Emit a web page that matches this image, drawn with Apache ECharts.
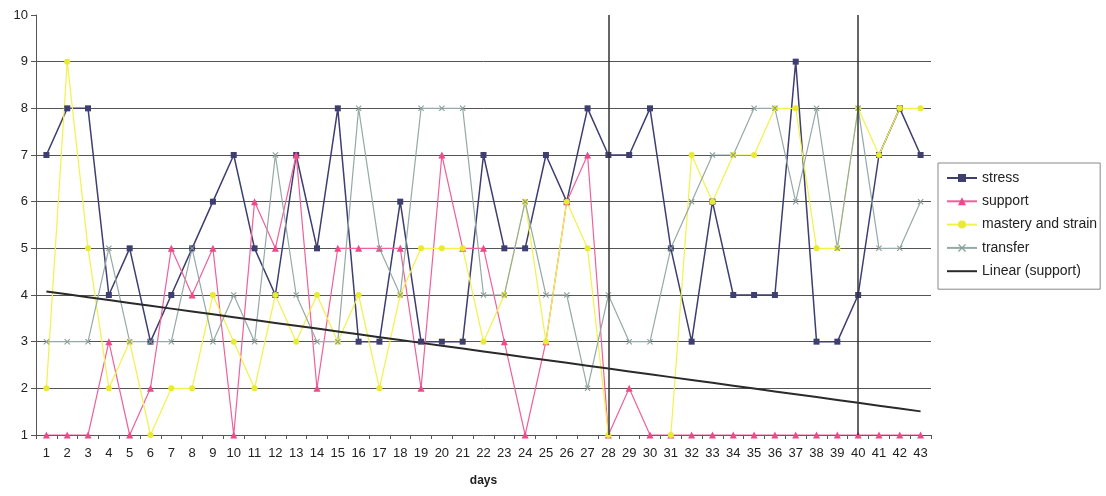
<!DOCTYPE html>
<html>
<head>
<meta charset="utf-8">
<script src="https://cdn.jsdelivr.net/npm/echarts@6/dist/echarts.min.js"></script>
<style>html,body{margin:0;padding:0;background:#fff}#c{width:1106px;height:496px}</style>
</head>
<body>
<div id="c"></div>
<script>
const days = ['1','2','3','4','5','6','7','8','9','10','11','12','13','14','15','16','17','18','19','20','21','22','23','24','25','26','27','28','29','30','31','32','33','34','35','36','37','38','39','40','41','42','43'];
const stress = [7,8,8,4,5,3,4,5,6,7,5,4,7,5,8,3,3,6,3,3,3,7,5,5,7,6,8,7,7,8,5,3,6,4,4,4,9,3,3,4,7,8,7];
const support = [1,1,1,3,1,2,5,4,5,1,6,5,7,2,5,5,5,5,2,7,5,5,3,1,3,6,7,1,2,1,1,1,1,1,1,1,1,1,1,1,1,1,1];
const mastery = [2,9,5,2,3,1,2,2,4,3,2,4,3,4,3,4,2,4,5,5,5,3,4,6,3,6,5,1,null,null,1,7,6,7,7,8,8,5,5,8,7,8,8];
const transfer = [3,3,3,5,3,3,3,5,3,4,3,7,4,3,3,8,5,4,8,8,8,4,4,6,4,4,2,4,3,3,5,6,7,7,8,8,6,8,5,8,5,5,6];
const yTicks = [1,2,3,4,5,6,7,8,9,10];
const markerDays = ['28','40'];

// Linear trendline (least squares) of support
const n = support.length;
let sx=0, sy=0, sxy=0, sxx=0;
support.forEach((v,i)=>{const x=i+1; sx+=x; sy+=v; sxy+=x*v; sxx+=x*x;});
const slope = (n*sxy - sx*sy)/(n*sxx - sx*sx);
const icpt = (sy - slope*sx)/n;
const trend = support.map((_,i)=>+(icpt + slope*(i+1)).toFixed(4));

const xSym = 'path://M0,1.2L1.2,0L5,3.8L8.8,0L10,1.2L6.2,5L10,8.8L8.8,10L5,6.2L1.2,10L0,8.8L3.8,5Z';
const font = 'Liberation Sans, Arial, sans-serif';

const chart = echarts.init(document.getElementById('c'), null, {renderer:'canvas'});
chart.setOption({
  animation: false,
  backgroundColor: '#fff',
  grid: {left: 36, top: 15, width: 895, height: 420},
  legend: {
    orient: 'vertical', left: 938, top: 163,
    padding: [8, 3, 11, 8], itemGap: 9.3, itemWidth: 30, itemHeight: 10,
    borderColor: '#888', borderWidth: 1,
    textStyle: {fontFamily: font, fontSize: 14, color: '#222'},
    data: ['stress','support','mastery and strain','transfer',
      {name: 'Linear (support)', itemStyle: {opacity: 0}}]
  },
  xAxis: {
    type: 'category', data: days, boundaryGap: true,
    name: 'days', nameLocation: 'middle', nameGap: 40,
    nameTextStyle: {fontFamily: font, fontSize: 12, fontWeight: 'bold', color: '#222'},
    axisLine: {lineStyle: {color: '#555', width: 1}},
    axisTick: {show: true, alignWithLabel: false, length: 4, lineStyle: {color: '#555'}},
    axisLabel: {fontFamily: font, fontSize: 13, color: '#222', margin: 12, interval: 0},
    splitLine: {show: false}
  },
  yAxis: {
    type: 'value', min: yTicks[0], max: yTicks[yTicks.length-1], interval: 1,
    axisLine: {show: true, lineStyle: {color: '#555', width: 1}},
    axisTick: {show: true, length: 5, lineStyle: {color: '#555'}},
    axisLabel: {fontFamily: font, fontSize: 13, color: '#222', margin: 8},
    splitLine: {show: true, showMinLine: false, showMaxLine: false, lineStyle: {color: '#555', width: 1}}
  },
  series: [
    {name: 'stress', type: 'line', data: stress, symbol: 'rect', symbolSize: 6,
     lineStyle: {color: '#3e3e70', width: 1.5}, itemStyle: {color: '#3e3e70'},
     markLine: {silent: true, symbol: 'none', label: {show: false},
       lineStyle: {color: '#333', width: 1.5, type: 'solid'},
       data: markerDays.map(d => ({xAxis: d}))}},
    {name: 'support', type: 'line', data: support, symbol: 'triangle', symbolSize: 7,
     lineStyle: {color: '#f0609a', width: 1.2}, itemStyle: {color: '#ee4a8a'}},
    {name: 'mastery and strain', type: 'line', data: mastery, symbol: 'circle', symbolSize: 6,
     connectNulls: false,
     lineStyle: {color: '#f2f24a', width: 1.2}, itemStyle: {color: '#eaea30'}},
    {name: 'transfer', type: 'line', data: transfer, symbol: xSym, symbolSize: 6,
     lineStyle: {color: '#94aaa6', width: 1.2}, itemStyle: {color: '#8a9c98'}},
    {name: 'Linear (support)', type: 'line', data: trend, symbol: 'none',
     lineStyle: {color: '#2a2a2a', width: 2}, itemStyle: {color: '#2a2a2a'}}
  ]
});
</script>
</body>
</html>
